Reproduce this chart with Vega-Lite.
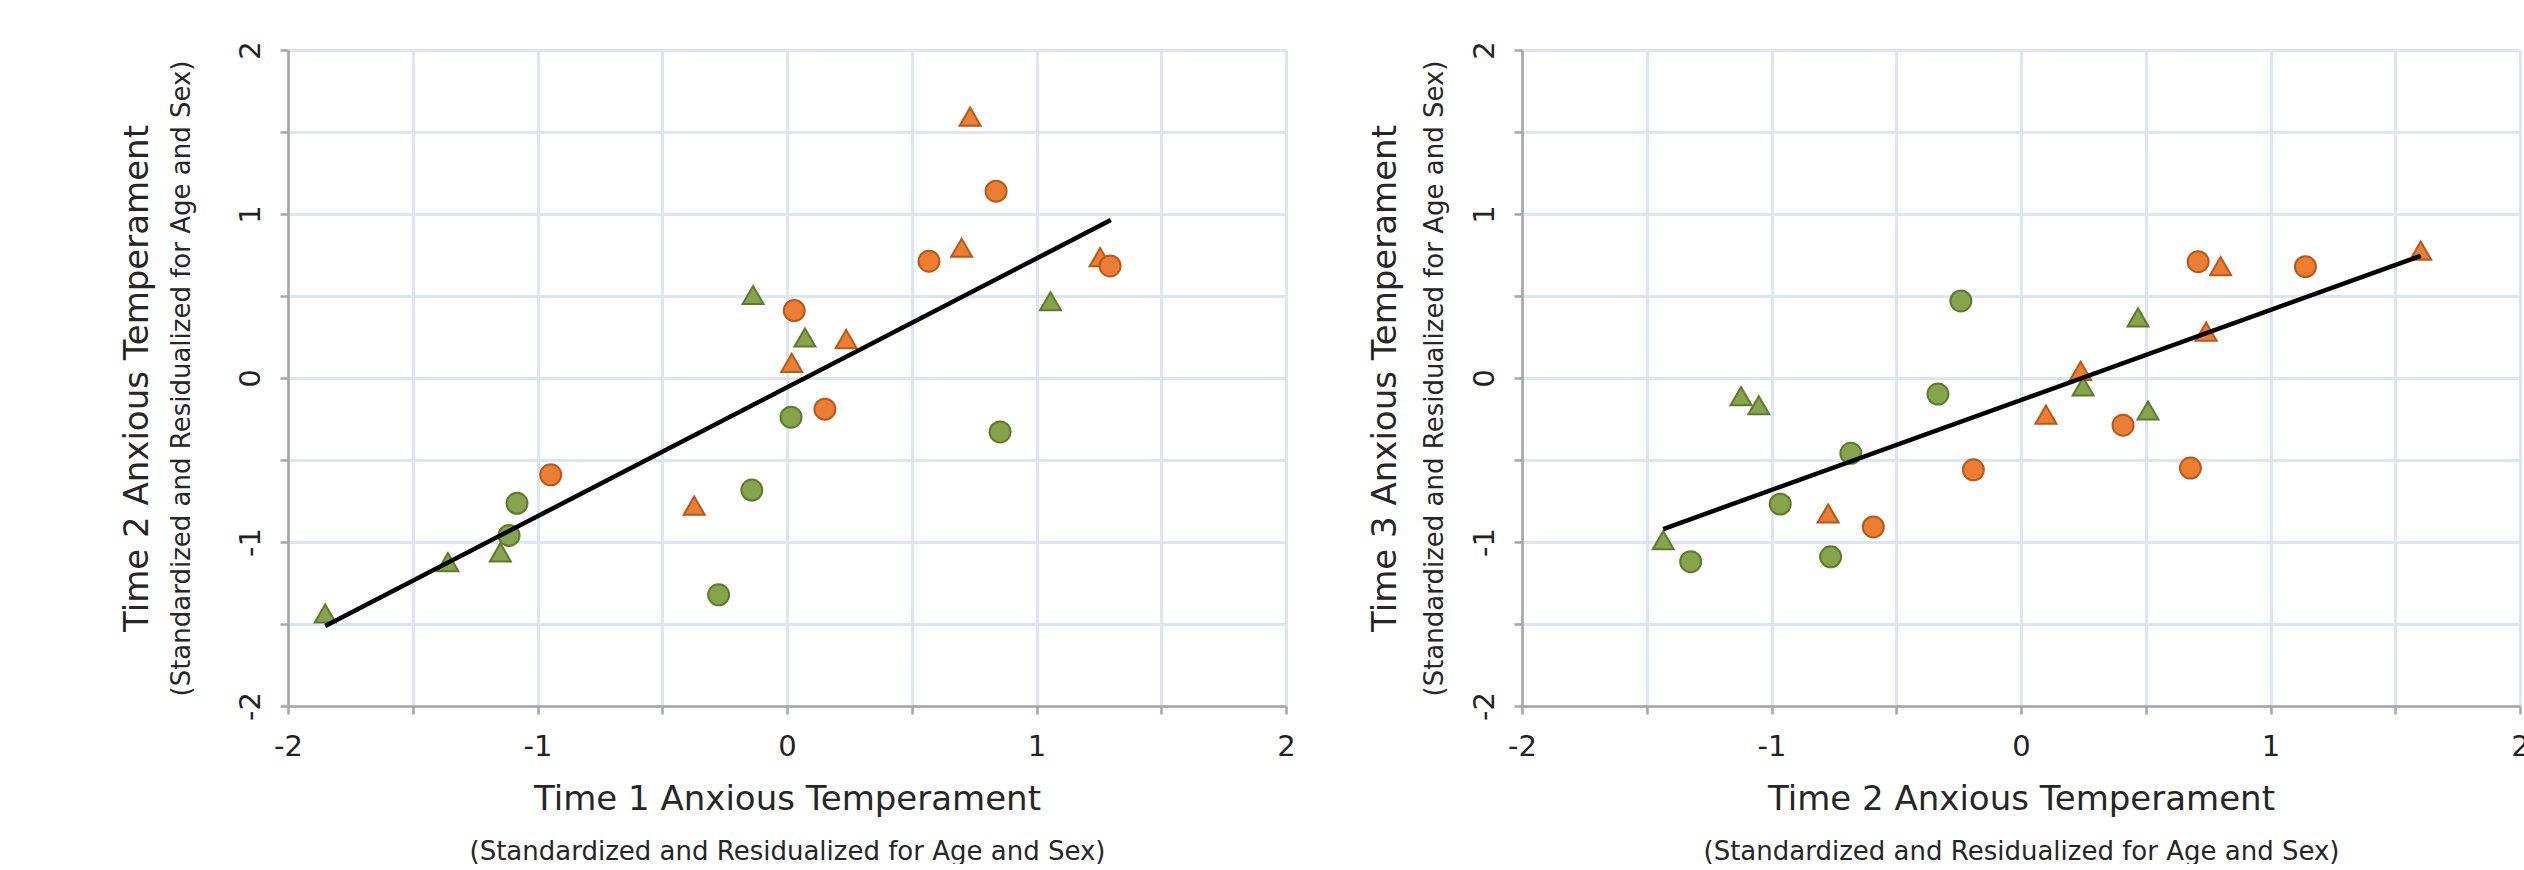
{
  "$schema": "https://vega.github.io/schema/vega-lite/v6.json",
  "background": "white",
  "padding": {"left": 120, "top": 40, "right": 0, "bottom": 0},
  "autosize": {"type": "pad"},
  "spacing": 72,
  "config": {
    "view": {"stroke": null},
    "font": "DejaVu Sans",
    "axis": {
      "labelFont": "DejaVu Sans",
      "titleFont": "DejaVu Sans",
      "titleFontWeight": "normal",
      "labelColor": "#222222",
      "titleColor": "#262626",
      "domainColor": "#A6A6A6",
      "domainWidth": 2.5,
      "tickColor": "#A6A6A6",
      "tickWidth": 2.5,
      "tickSize": 8,
      "gridColor": "#DCE6F2",
      "gridWidth": 3,
      "labelFlush": false,
      "labelOverlap": false
    }
  },
  "datasets": {
    "t12": [
      {"group": "A", "type": "2", "x": 0.734, "y": 1.594},
      {"group": "A", "type": "2", "x": 0.70, "y": 0.794},
      {"group": "A", "type": "2", "x": 1.255, "y": 0.737},
      {"group": "A", "type": "2", "x": 0.237, "y": 0.237},
      {"group": "A", "type": "2", "x": 0.019, "y": 0.092},
      {"group": "A", "type": "2", "x": -0.372, "y": -0.778},
      {"group": "A", "type": "1", "x": 0.838, "y": 1.139},
      {"group": "A", "type": "1", "x": 0.569, "y": 0.712},
      {"group": "A", "type": "1", "x": 1.295, "y": 0.683},
      {"group": "A", "type": "1", "x": 0.029, "y": 0.411},
      {"group": "A", "type": "1", "x": 0.152, "y": -0.190},
      {"group": "A", "type": "1", "x": -0.947, "y": -0.590},
      {"group": "B", "type": "2", "x": -0.136, "y": 0.506},
      {"group": "B", "type": "2", "x": 0.072, "y": 0.247},
      {"group": "B", "type": "2", "x": 1.056, "y": 0.468},
      {"group": "B", "type": "2", "x": -1.149, "y": -1.063},
      {"group": "B", "type": "2", "x": -1.359, "y": -1.123},
      {"group": "B", "type": "2", "x": -1.851, "y": -1.436},
      {"group": "B", "type": "1", "x": 0.016, "y": -0.239},
      {"group": "B", "type": "1", "x": 0.854, "y": -0.329},
      {"group": "B", "type": "1", "x": -0.141, "y": -0.683},
      {"group": "B", "type": "1", "x": -1.082, "y": -0.764},
      {"group": "B", "type": "1", "x": -1.114, "y": -0.960},
      {"group": "B", "type": "1", "x": -0.274, "y": -1.322}
    ],
    "t23": [
      {"group": "A", "type": "2", "x": 1.602, "y": 0.777},
      {"group": "A", "type": "2", "x": 0.80, "y": 0.682},
      {"group": "A", "type": "2", "x": 0.742, "y": 0.283},
      {"group": "A", "type": "2", "x": 0.239, "y": 0.043},
      {"group": "A", "type": "2", "x": 0.10, "y": -0.223},
      {"group": "A", "type": "2", "x": -0.773, "y": -0.826},
      {"group": "A", "type": "1", "x": 0.710, "y": 0.709},
      {"group": "A", "type": "1", "x": 1.140, "y": 0.679},
      {"group": "A", "type": "1", "x": 0.409, "y": -0.288},
      {"group": "A", "type": "1", "x": -0.191, "y": -0.560},
      {"group": "A", "type": "1", "x": 0.679, "y": -0.549},
      {"group": "A", "type": "1", "x": -0.592, "y": -0.908},
      {"group": "B", "type": "2", "x": 0.469, "y": 0.370},
      {"group": "B", "type": "2", "x": 0.249, "y": -0.052},
      {"group": "B", "type": "2", "x": 0.509, "y": -0.198},
      {"group": "B", "type": "2", "x": -1.122, "y": -0.111},
      {"group": "B", "type": "2", "x": -1.051, "y": -0.166},
      {"group": "B", "type": "2", "x": -1.434, "y": -0.989},
      {"group": "B", "type": "1", "x": -0.241, "y": 0.470},
      {"group": "B", "type": "1", "x": -0.333, "y": -0.098},
      {"group": "B", "type": "1", "x": -0.682, "y": -0.459},
      {"group": "B", "type": "1", "x": -0.965, "y": -0.769},
      {"group": "B", "type": "1", "x": -0.763, "y": -1.090},
      {"group": "B", "type": "1", "x": -1.324, "y": -1.120}
    ],
    "fit12": [
      {"x": -1.851, "y": -1.512},
      {"x": 1.298, "y": 0.963}
    ],
    "fit23": [
      {"x": -1.434, "y": -0.921},
      {"x": 1.602, "y": 0.745}
    ]
  },
  "hconcat": [
    {
      "width": 998,
      "height": 656,
      "resolve": {"axis": {"x": "independent", "y": "independent"}},
      "layer": [
        {
          "data": {"name": "t12"},
          "mark": {"type": "point", "filled": true, "strokeWidth": 2, "opacity": 1, "size": 440},
          "encoding": {
            "x": {"field": "x", "type": "quantitative", "scale": {"domain": [-2, 2], "nice": false, "zero": false},
              "axis": {"values": [-2, -1.5, -1, -0.5, 0, 0.5, 1, 1.5, 2], "labelExpr": "datum.value % 1 == 0 ? '' + datum.value : ''",
                "title": "Time 1 Anxious Temperament", "titleFontSize": 34, "titlePadding": 21, "labelFontSize": 29, "labelPadding": 18, "grid": true}},
            "y": {"field": "y", "type": "quantitative", "scale": {"domain": [-2, 2], "nice": false, "zero": false},
              "axis": {"values": [-2, -1.5, -1, -0.5, 0, 0.5, 1, 1.5, 2], "labelExpr": "datum.value % 1 == 0 ? '' + datum.value : ''",
                "labelAngle": -90, "labelAlign": "center", "labelBaseline": "bottom",
                "title": "Time 2 Anxious Temperament", "titleFontSize": 34, "titlePadding": 82, "labelFontSize": 29, "labelPadding": 15, "grid": true}},
            "shape": {"field": "type", "type": "nominal", "scale": {"domain": ["1", "2"], "range": ["circle", "triangle-up"]}, "legend": null},
            "fill": {"field": "group", "type": "nominal", "scale": {"domain": ["A", "B"], "range": ["#ED7D31", "#87A34C"]}, "legend": null},
            "stroke": {"field": "group", "type": "nominal", "scale": {"domain": ["A", "B"], "range": ["#B5591C", "#5F7A2C"]}, "legend": null}
          }
        },
        {
          "data": {"name": "fit12"},
          "mark": {"type": "line", "color": "#000000", "strokeWidth": 4.5},
          "encoding": {
            "x": {"field": "x", "type": "quantitative",
              "axis": {"orient": "bottom", "title": "(Standardized and Residualized for Age and Sex)", "titleFontSize": 26, "titlePadding": 132, "labels": false, "ticks": false, "domain": false, "grid": false}},
            "y": {"field": "y", "type": "quantitative",
              "axis": {"orient": "left", "title": "(Standardized and Residualized for Age and Sex)", "titleFontSize": 26, "titlePadding": 94, "labels": false, "ticks": false, "domain": false, "grid": false}}
          }
        },
        {
          "mark": {"type": "text", "text": "R² = 0.67", "align": "right", "baseline": "alphabetic", "fontSize": 40, "color": "#262626", "font": "DejaVu Sans"},
          "encoding": {
            "x": {"datum": 1.81, "type": "quantitative", "axis": null},
            "y": {"datum": -1.765, "type": "quantitative", "axis": null}
          }
        }
      ]
    },
    {
      "width": 998,
      "height": 656,
      "resolve": {"axis": {"x": "independent", "y": "independent"}},
      "layer": [
        {
          "data": {"name": "t23"},
          "mark": {"type": "point", "filled": true, "strokeWidth": 2, "opacity": 1, "size": 440},
          "encoding": {
            "x": {"field": "x", "type": "quantitative", "scale": {"domain": [-2, 2], "nice": false, "zero": false},
              "axis": {"values": [-2, -1.5, -1, -0.5, 0, 0.5, 1, 1.5, 2], "labelExpr": "datum.value % 1 == 0 ? '' + datum.value : ''",
                "title": "Time 2 Anxious Temperament", "titleFontSize": 34, "titlePadding": 21, "labelFontSize": 29, "labelPadding": 18, "grid": true}},
            "y": {"field": "y", "type": "quantitative", "scale": {"domain": [-2, 2], "nice": false, "zero": false},
              "axis": {"values": [-2, -1.5, -1, -0.5, 0, 0.5, 1, 1.5, 2], "labelExpr": "datum.value % 1 == 0 ? '' + datum.value : ''",
                "labelAngle": -90, "labelAlign": "center", "labelBaseline": "bottom",
                "title": "Time 3 Anxious Temperament", "titleFontSize": 34, "titlePadding": 68, "labelFontSize": 29, "labelPadding": 15, "grid": true}},
            "shape": {"field": "type", "type": "nominal", "scale": {"domain": ["1", "2"], "range": ["circle", "triangle-up"]}, "legend": null},
            "fill": {"field": "group", "type": "nominal", "scale": {"domain": ["A", "B"], "range": ["#ED7D31", "#87A34C"]}, "legend": null},
            "stroke": {"field": "group", "type": "nominal", "scale": {"domain": ["A", "B"], "range": ["#B5591C", "#5F7A2C"]}, "legend": null}
          }
        },
        {
          "data": {"name": "fit23"},
          "mark": {"type": "line", "color": "#000000", "strokeWidth": 4.5},
          "encoding": {
            "x": {"field": "x", "type": "quantitative",
              "axis": {"orient": "bottom", "title": "(Standardized and Residualized for Age and Sex)", "titleFontSize": 26, "titlePadding": 132, "labels": false, "ticks": false, "domain": false, "grid": false}},
            "y": {"field": "y", "type": "quantitative",
              "axis": {"orient": "left", "title": "(Standardized and Residualized for Age and Sex)", "titleFontSize": 26, "titlePadding": 75, "labels": false, "ticks": false, "domain": false, "grid": false}}
          }
        },
        {
          "mark": {"type": "text", "text": "R² = 0.59", "align": "right", "baseline": "alphabetic", "fontSize": 40, "color": "#262626", "font": "DejaVu Sans"},
          "encoding": {
            "x": {"datum": 1.87, "type": "quantitative", "axis": null},
            "y": {"datum": -1.76, "type": "quantitative", "axis": null}
          }
        }
      ]
    }
  ]
}
